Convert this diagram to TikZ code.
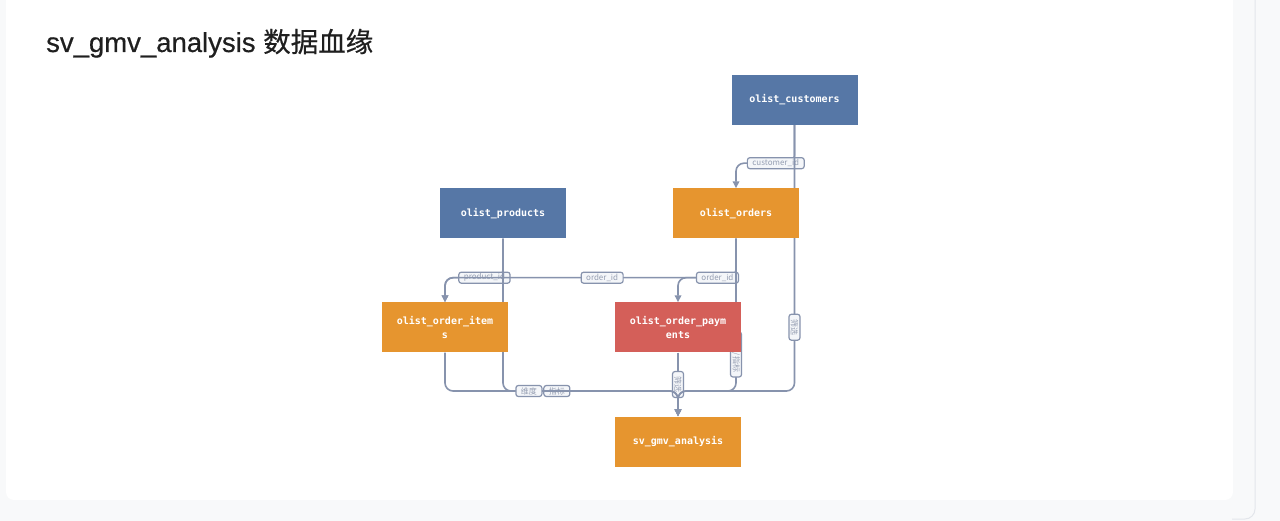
\documentclass[tikz,border=0pt]{standalone}
\usepackage{fontspec}
\setmainfont{Liberation Sans}
\newfontfamily\cjkfont{Noto Sans CJK SC}
\newfontfamily\codefont{DejaVu Sans Mono}
\newfontfamily\titlefont[FakeBold=0.5]{Liberation Sans}
\newfontfamily\titlecjk[FakeBold=0.5]{Noto Sans CJK SC}
\usetikzlibrary{arrows.meta,backgrounds}
\pgfdeclarelayer{lines}
\pgfsetlayers{background,lines,main}
\definecolor{dimblue}{HTML}{5677A6}
\definecolor{factorange}{HTML}{E6952F}
\definecolor{payred}{HTML}{D45F59}
\definecolor{edgegray}{HTML}{8793AD}
\definecolor{lblgray}{HTML}{959EB2}
\definecolor{lblfill}{HTML}{F4F6F9}
\definecolor{panelgray}{HTML}{F8F9FA}
\definecolor{panelline}{HTML}{E3E6EB}
\definecolor{titleblack}{HTML}{1F1F1F}
\tikzset{tablebox/.style={minimum width=126pt, minimum height=50pt, inner sep=0pt, text=white,
            font=\codefont\bfseries\fontsize{10}{14}\selectfont, align=center},
         flow/.style={draw=edgegray, line width=1.6pt, rounded corners=8pt},
         tip/.style={-{Triangle[length=7pt,width=6.5pt]}},
         lbl/.style={draw=edgegray, fill=lblfill, line width=1.2pt, rounded corners=2.5pt,
            inner xsep=5pt, inner ysep=1pt, minimum height=11pt, text=lblgray,
            font=\cjkfont\fontsize{8}{9}\selectfont}}

\begin{document}
\begin{tikzpicture}[x=1pt, y=-1pt]
        \useasboundingbox (0,0) rectangle (1280,521);
        \begin{scope}[on background layer]
            \fill[panelgray] (0,0) rectangle (1280,521);
            \fill[white, rounded corners=8pt] (6,-12) rectangle (1233,500);
            \draw[panelline, line width=1pt, rounded corners=10pt] (1255,-12) -- (1255,519) -- (1232,519);
        \end{scope}
        \node[anchor=base west, inner sep=0pt, text=titleblack, font=\titlefont\fontsize{27.5}{32}\selectfont] (title) at (46,52) {sv\_gmv\_analysis {\titlecjk 数据血缘}};
        %
        \node[tablebox, fill=dimblue] (cust) at (794.5,100) {olist\_customers};
        \node[tablebox, fill=dimblue] (prod) at (503,213.5) {olist\_products};
        \node[tablebox, fill=factorange] (ord) at (736,213.5) {olist\_orders};
        \node[tablebox, fill=factorange] (items) at (445,327.5) {olist\_order\_item\\s};
        \node[tablebox, fill=payred] (pay) at (678,327.5) {olist\_order\_paym\\ents};
        \node[tablebox, fill=factorange] (sv) at (678,441.5) {sv\_gmv\_analysis};
        \coordinate (join) at (678,391);
        %
        \begin{pgfonlayer}{lines}
            \draw[flow, tip] (cust.south) -- ++(0,38) -| node[lbl, pos=0.16] {customer\_id} (ord.north);
            \draw[flow, tip] (prod.south) -- ++(0,39) -| node[lbl, pos=0.16] {product\_id} (items.north);
            \draw[flow, tip] (ord.south) -- ++(0,39) -| node[lbl, pos=0.23] {order\_id} (items.north);
            \draw[flow, tip] (ord.south) -- ++(0,39) -| node[lbl, pos=0.16] {order\_id} (pay.north);
            %
            \draw[flow, tip] (pay.south) -- node[lbl, rotate=-90] {筛选} (sv.north);
            \draw[flow, tip] (items.south) |- node[lbl, pos=0.74] {指标} (join) -- (sv.north);
            \draw[flow, tip] (prod.south) |- node[lbl, pos=0.574] {维度} (join) -- (sv.north);
            \draw[flow, tip] (ord.south) |- node[lbl, rotate=-90, pos=0.38] {维度/指标} (join) -- (sv.north);
            \draw[flow, tip] (cust.south) |- node[lbl, rotate=-90, pos=0.38] {筛选} (join) -- (sv.north);
        \end{pgfonlayer}
    \end{tikzpicture}
\end{document}
